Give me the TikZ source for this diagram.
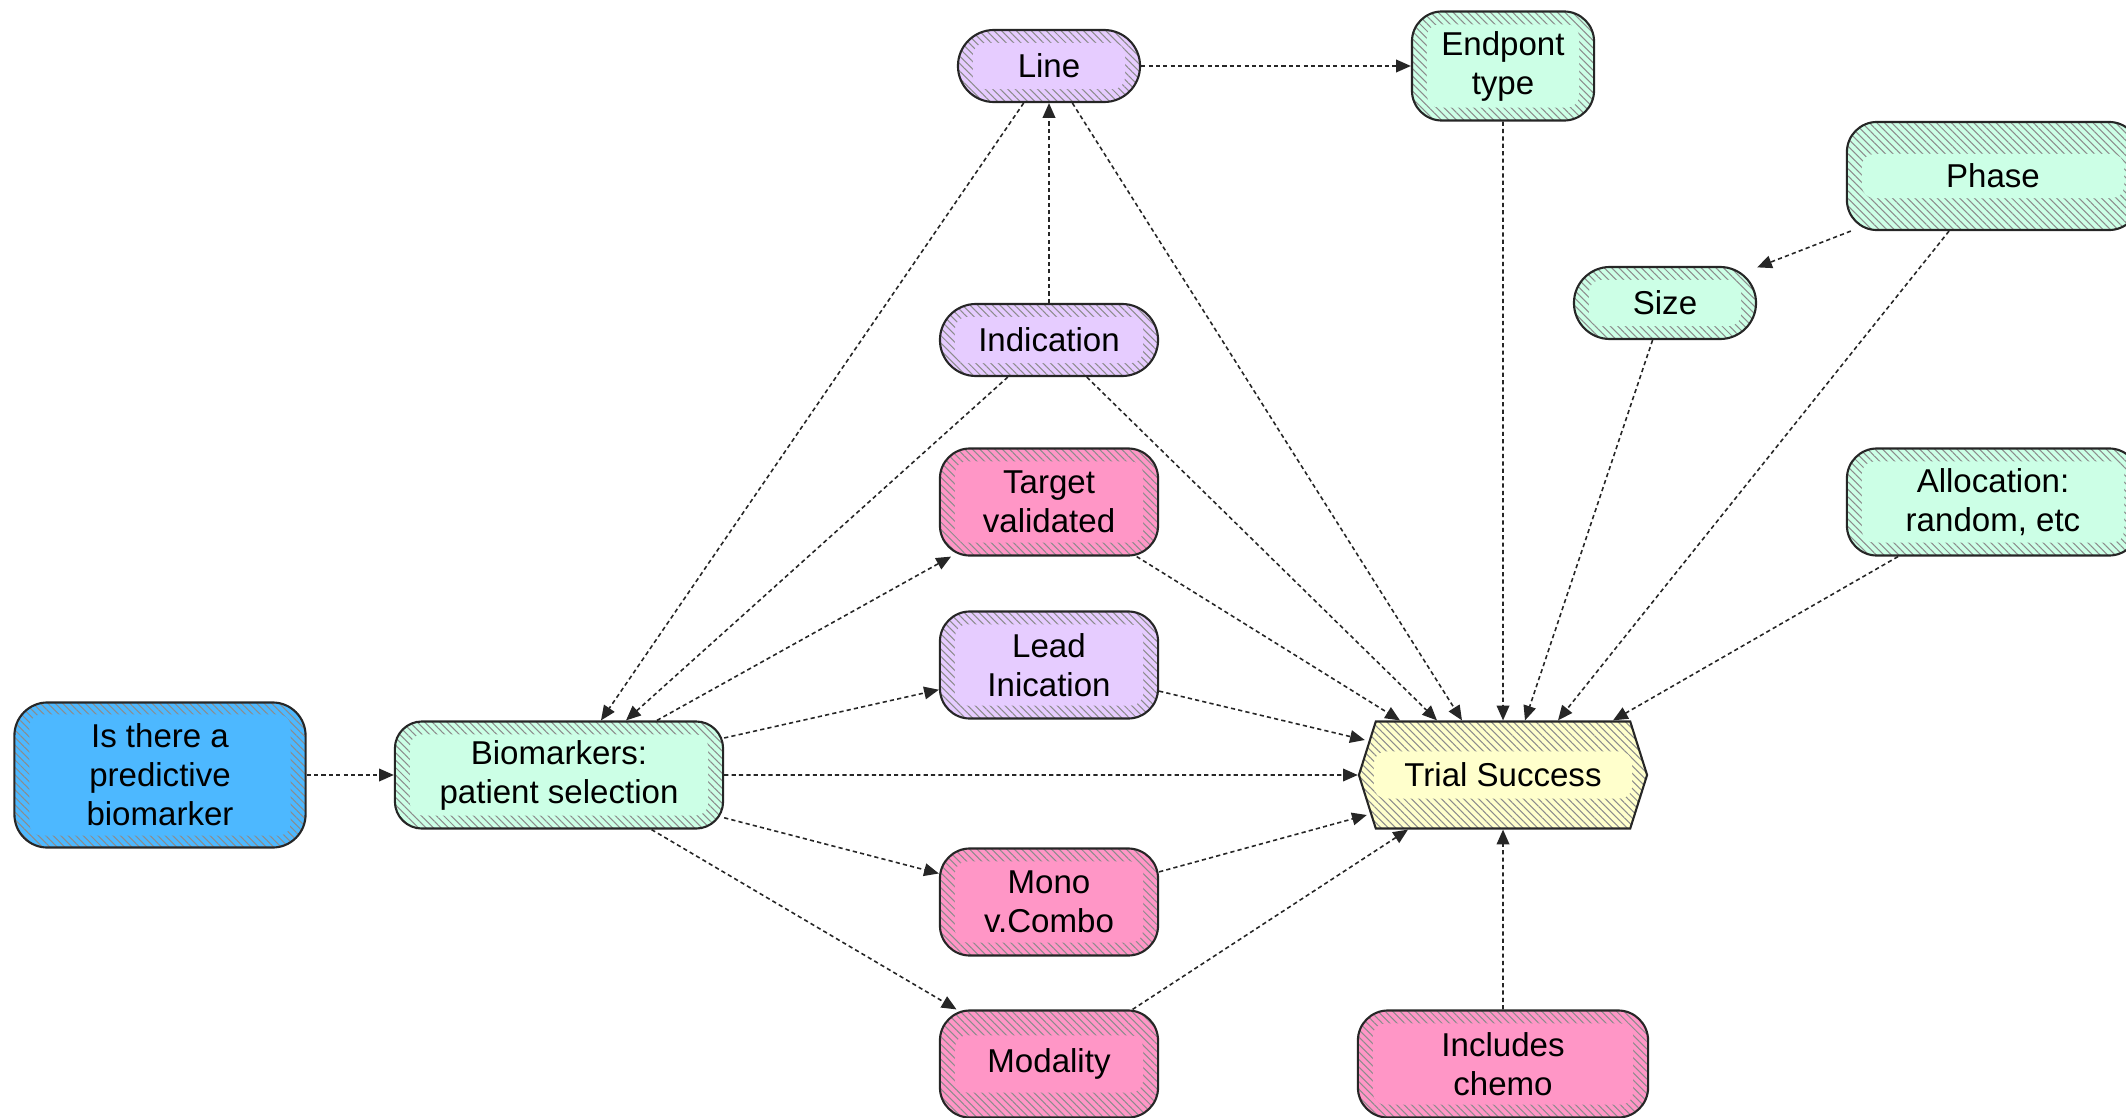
\documentclass[tikz,border=0pt]{standalone}
\usepackage{fontspec}
\setmainfont{Liberation Sans}
\usetikzlibrary{arrows.meta, calc, patterns.meta, shapes.symbols}

\definecolor{bluebox}{RGB}{77,184,255}
\definecolor{greenbox}{RGB}{204,255,230}
\definecolor{purplebox}{RGB}{230,204,255}
\definecolor{pinkbox}{RGB}{255,150,198}
\definecolor{yellowbox}{RGB}{255,255,204}

\tikzset{
  % box: fill colour, height of the hatched band
  box/.style 2 args={draw=black!85, line width=0.6pt, rounded corners=0.3cm,
    align=center, inner sep=2pt, fill=#1,
    path picture={
      \fill[pattern={Lines[angle=-45, distance=1.5pt, line width=0.3pt]}, pattern color=black!45]
        (path picture bounding box.south west) rectangle (path picture bounding box.north east);
      \fill[#1, rounded corners=0.12cm]
        ($(path picture bounding box.south west)+(0.15cm,#2)$) rectangle
        ($(path picture bounding box.north east)+(-0.15cm,-#2)$);
    }},
  pill/.style={rounded corners=0.36cm},
  flow/.style={-{Triangle[length=4.2pt, width=3.6pt]}, dash pattern=on 1.2pt off 0.9pt,
    line width=0.45pt, black!85}
}

\begin{document}
\begin{tikzpicture}[x=0.01cm, y=-0.01cm, every node/.style={font=\fontsize{9.4}{11.1}\selectfont}]
    \useasboundingbox (0,0) rectangle (2126,1118);

    % Start and patient selection
    \node[box={bluebox}{0.12cm}, rounded corners=0.33cm, minimum width=2.91cm, minimum height=1.45cm] (q) at (160,775) {Is there a\\predictive\\biomarker};
    \node[box={greenbox}{0.13cm}, rounded corners=0.27cm, minimum width=3.28cm, minimum height=1.07cm] (bio) at (559,775) {Biomarkers:\\patient selection};

    % Middle column
    \node[box={purplebox}{0.13cm}, pill, minimum width=1.82cm, minimum height=0.72cm] (line) at (1049,66) {Line};
    \node[box={purplebox}{0.13cm}, pill, minimum width=2.18cm, minimum height=0.72cm] (ind) at (1049,340) {Indication};
    \node[box={pinkbox}{0.13cm}, minimum width=2.18cm, minimum height=1.07cm] (tv) at (1049,502) {Target\\validated};
    \node[box={purplebox}{0.13cm}, minimum width=2.18cm, minimum height=1.07cm] (lead) at (1049,665) {Lead\\Inication};
    \node[box={pinkbox}{0.13cm}, minimum width=2.18cm, minimum height=1.07cm] (mono) at (1049,902) {Mono\\v.Combo};
    \node[box={pinkbox}{0.25cm}, minimum width=2.18cm, minimum height=1.07cm] (mod) at (1049,1064) {Modality};

    % Trial design column
    \node[box={greenbox}{0.13cm}, minimum width=1.82cm, minimum height=1.09cm] (end) at (1503,66) {Endpont\\type};
    \node[box={greenbox}{0.32cm}, minimum width=2.92cm, minimum height=1.08cm] (phase) at (1993,176) {Phase};
    \node[box={greenbox}{0.13cm}, pill, minimum width=1.82cm, minimum height=0.72cm] (size) at (1665,303) {Size};
    \node[box={greenbox}{0.13cm}, minimum width=2.92cm, minimum height=1.07cm] (alloc) at (1993,502) {Allocation:\\random, etc};
    \node[box={pinkbox}{0.13cm}, minimum width=2.9cm, minimum height=1.07cm] (chemo) at (1503,1064) {Includes\\chemo};

    % Outcome
    \node[box={yellowbox}{0.3cm}, shape=signal, signal to=west and east, signal pointer angle=145, sharp corners,
      minimum width=2.88cm, minimum height=1.07cm] (ts) at (1503,775) {Trial Success};

    % Links from the biomarker question
    \draw[flow] (q) -- (bio);
    \draw[flow] (bio) -- (ts);
    \draw[flow] (line) -- ($(bio.north)+(42,0)$);
    \draw[flow] (ind) -- ($(bio.north)+(67,0)$);
    \draw[flow] (bio) -- (tv);
    \draw[flow] (bio) -- (lead);
    \draw[flow] (bio) -- (mono);
    \draw[flow] (bio) -- (mod);

    % Links at the top
    \draw[flow] (ind) -- (line);
    \draw[flow] (line) -- (end);
    \draw[flow] (phase) -- (size);

    % Links into Trial Success
    \draw[flow] (tv) -- ($(ts.north)+(-103,0)$);
    \draw[flow] (ind) -- ($(ts.north)+(-66,0)$);
    \draw[flow] (line) -- ($(ts.north)+(-41,0)$);
    \draw[flow] (end) -- (ts);
    \draw[flow] (size) -- ($(ts.north)+(22,0)$);
    \draw[flow] (phase) -- ($(ts.north)+(55,0)$);
    \draw[flow] (alloc) -- ($(ts.north)+(110,0)$);
    \draw[flow] (lead) -- ($(ts.west)+(7,-35)$);
    \draw[flow] (mono) -- ($(ts.west)+(9,40)$);
    \draw[flow] (mod) -- ($(ts.south)+(-95,0)$);
    \draw[flow] (chemo) -- (ts);
\end{tikzpicture}
\end{document}
